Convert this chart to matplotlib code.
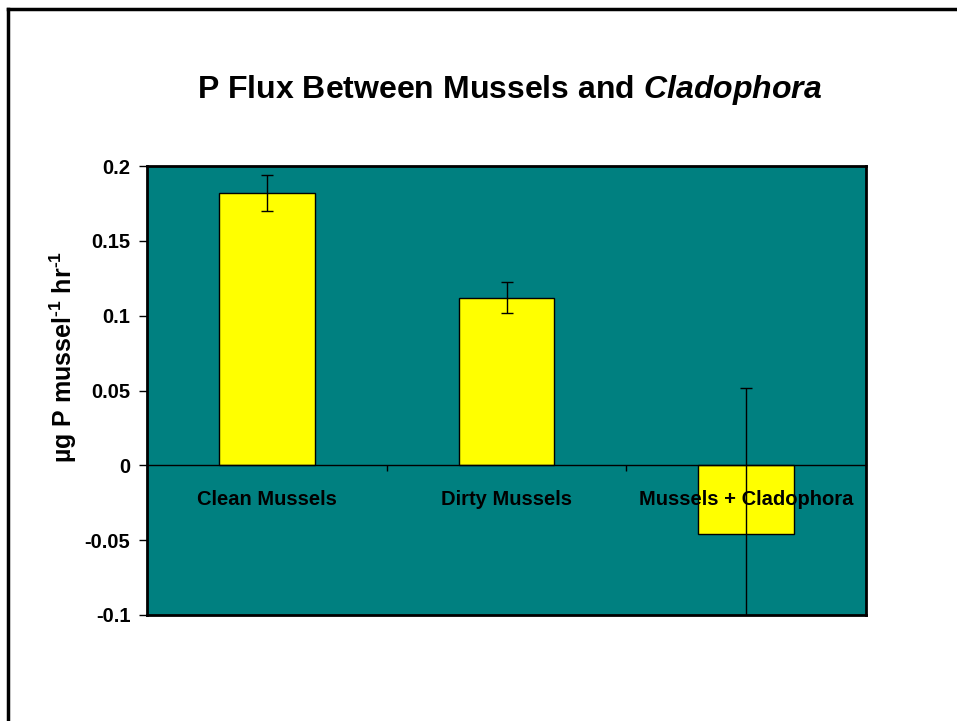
import matplotlib
matplotlib.use("Agg")
import matplotlib.pyplot as plt
from matplotlib.lines import Line2D

categories = ["Clean Mussels", "Dirty Mussels", "Mussels + Cladophora"]
flux = [0.182, 0.112, -0.046]
err = [0.012, 0.0105, 0.0975]
yticks = [-0.1, -0.05, 0, 0.05, 0.1, 0.15, 0.2]
ytick_labels = ["-0.1", "-0.05", "0", "0.05", "0.1", "0.15", "0.2"]

plt.rcParams["font.family"] = ["Liberation Sans", "DejaVu Sans"]
plt.rcParams["font.weight"] = "bold"
plt.rcParams["mathtext.fontset"] = "custom"
plt.rcParams["mathtext.rm"] = "Liberation Sans:bold"
plt.rcParams["mathtext.it"] = "Liberation Sans:bold:italic"
plt.rcParams["mathtext.bf"] = "Liberation Sans:bold"

fig = plt.figure(figsize=(9.57, 7.21), dpi=100)
ax = fig.add_axes([147 / 957, 1 - 615 / 721, 719 / 957, 449 / 721])
ax.set_facecolor("#008080")

x = range(len(categories))
ax.bar(x, flux, width=0.4, color="#ffff00", edgecolor="black", linewidth=1, zorder=2)
ax.errorbar(x, flux, yerr=err, fmt="none", ecolor="black", elinewidth=1,
            capsize=4, capthick=1, zorder=3)

ax.set_xlim(-0.5, len(categories) - 0.5)
ax.set_ylim(yticks[0], yticks[-1])
ax.set_yticks(yticks)
ax.set_yticklabels(ytick_labels, fontsize=14.5, fontweight="bold")
ax.tick_params(axis="y", direction="out", length=6, width=1, pad=6)

# x axis sits on the zero line, category labels just below it (drawn over the bars)
ax.spines["bottom"].set_position(("data", 0))
ax.spines["bottom"].set_linewidth(1)
ax.xaxis.set_zorder(2.5)
ax.set_xticks(list(x))
ax.set_xticklabels(categories, fontsize=14.5, fontweight="bold")
ax.tick_params(axis="x", which="major", length=0, pad=18)
ax.set_xticks([i + 0.5 for i in range(len(categories) - 1)], minor=True)
ax.tick_params(axis="x", which="minor", direction="out", length=4, width=1)
for s in ["left", "top", "right"]:
    ax.spines[s].set_linewidth(2)
ax.add_line(Line2D([0, 1], [0, 0], transform=ax.transAxes, color="black",
                   linewidth=2, clip_on=False, zorder=4))

fig.text(0.532, 1 - 90 / 721, r"P Flux Between Mussels and $\mathit{Cladophora}$",
         ha="center", va="center", fontsize=23, fontweight="bold")
fig.text(63 / 957, 1 - 357 / 721, r"µg P mussel$^{\text{-1}}$ hr$^{\text{-1}}$", rotation=90,
         ha="center", va="center", fontsize=18, fontweight="bold")

# page border (top and left edges only)
fig.add_artist(Line2D([8 / 957, 1], [1 - 9 / 721, 1 - 9 / 721], color="black", linewidth=2.5))
fig.add_artist(Line2D([8 / 957, 8 / 957], [0, 1 - 9 / 721], color="black", linewidth=2.5))

fig.savefig("out.png", dpi=100)
